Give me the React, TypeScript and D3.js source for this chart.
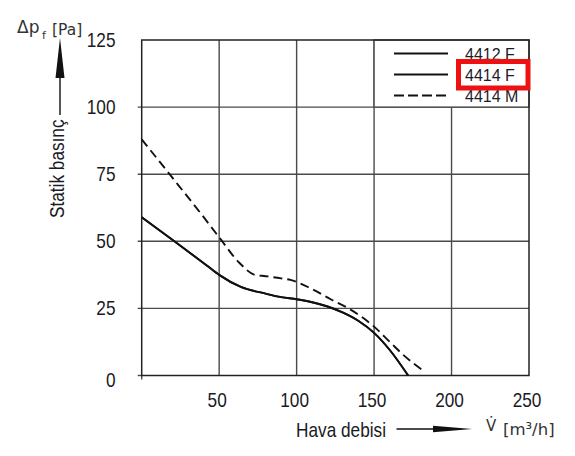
import * as d3 from "d3";

// fan curves (flow in m³/h, static pressure in Pa)
// 4412 F and 4414 F share the same solid curve
const flowF = [0, 20, 42, 50, 64, 80, 90, 100, 110, 120, 130, 140, 150, 160, 172];
const pressureF = [59, 50.5, 41, 37.5, 33, 30.5, 29.2, 28.4, 27.3, 25.7, 23.4, 20.3, 15.9, 9.6, 0];
const flowM = [0, 18, 40, 50, 63, 73, 80, 90, 96, 109, 122, 133.5, 150, 160, 169, 182.5];
const pressureM = [88, 75, 59, 51.5, 42, 37.5, 37, 36.2, 35.6, 32.5, 28.4, 25, 18.2, 12.6, 7.6, 1.5];

const series = [
  { name: "4412 F", flow: flowF, pressure: pressureF, dash: "" },
  { name: "4414 F", flow: flowF, pressure: pressureF, dash: "" },
  { name: "4414 M", flow: flowM, pressure: pressureM, dash: "9,5" },
];

const xTicks = [50, 100, 150, 200, 250];
const yTicks = [0, 25, 50, 75, 100, 125];
const xGrid = [50, 100, 150, 200];
const yGrid = [25, 50, 75, 100];

const sans = "'Liberation Sans',Arial,sans-serif";
const light = "'DejaVu Sans',sans-serif";

// no narrow font installed, so squeeze Liberation Sans
const Narrow = ({ x, y, anchor = "start", rotate = 0, children }) => (
  <g transform={`translate(${x},${y}) rotate(${rotate}) scale(0.82,1)`}>
    <text textAnchor={anchor} fontFamily={sans} fontSize={21} fill="#1a1a24">
      {children}
    </text>
  </g>
);

export default function App() {
  const width = 575,
    height = 456;

  const x = d3.scaleLinear().domain([0, 250]).range([141.7, 529]);
  const y = d3.scaleLinear().domain([0, 125]).range([375.5, 40]);

  const line = (s) =>
    d3
      .line<number>()
      .x((d) => x(d))
      .y((_, i) => y(s.pressure[i]))
      .curve(d3.curveMonotoneX)(s.flow);

  const gridColor = "#4a4a4a";

  return (
    <svg
      width={width}
      height={height}
      style={{ position: "absolute", left: 0, top: 0, background: "#fff" }}
    >
      {/* grid */}
      <g stroke={gridColor} strokeWidth={1.4}>
        {xGrid.map((v) => (
          <line key={"gx" + v} x1={x(v)} x2={x(v)} y1={y(0)} y2={y(125)} />
        ))}
        {yGrid.map((v) => (
          <line key={"gy" + v} x1={x(0) - 4} x2={x(250)} y1={y(v)} y2={y(v)} />
        ))}
        <line x1={x(0) - 4} x2={x(0)} y1={y(0)} y2={y(0)} />
        <line x1={x(0)} x2={x(0)} y1={y(0)} y2={y(0) + 4} />
      </g>

      {/* legend box covers the top-right cell */}
      <rect
        x={x(150)}
        y={y(125)}
        width={x(250) - x(150)}
        height={y(100) - y(125)}
        fill="#fff"
        stroke={gridColor}
        strokeWidth={1.4}
      />

      {/* frame */}
      <rect
        x={x(0)}
        y={y(125)}
        width={x(250) - x(0)}
        height={y(0) - y(125)}
        fill="none"
        stroke="#222"
        strokeWidth={1.5}
      />

      {/* curves */}
      {series.map((s) => (
        <path
          key={s.name}
          d={line(s)}
          fill="none"
          stroke="#111"
          strokeWidth={1.9}
          strokeDasharray={s.dash}
        />
      ))}

      {/* legend */}
      {series.map((s, i) => (
        <g key={"lg" + s.name} transform={`translate(0, ${53.5 + i * 21})`}>
          <line
            x1={394}
            x2={448}
            y1={0}
            y2={0}
            stroke="#111"
            strokeWidth={2.2}
            strokeDasharray={s.dash ? "10,4" : ""}
          />
          <text x={465} y={6} fontFamily={sans} fontSize={16} fill="#1c1c2a">
            {s.name}
          </text>
        </g>
      ))}
      <rect
        x={458.5}
        y={61.5}
        width={69.5}
        height={26.5}
        fill="none"
        stroke="#ee1111"
        strokeWidth={5}
      />

      {/* y tick labels */}
      {yTicks.map((v) => (
        <Narrow key={"ty" + v} x={115.5} y={y(v) + (v === 0 ? 11 : 6.5)} anchor="end">
          {v}
        </Narrow>
      ))}

      {/* x tick labels */}
      {xTicks.map((v) => (
        <Narrow key={"tx" + v} x={x(v) - 2} y={407} anchor="middle">
          {v}
        </Narrow>
      ))}

      {/* y axis title and arrow */}
      <Narrow x={64} y={218} rotate={-90}>
        Statik basınç
      </Narrow>
      <line x1={60} x2={60} y1={115} y2={76} stroke="#111" strokeWidth={1.4} />
      <path d="M60,38 L64.5,78 L55.5,78 Z" fill="#111" />
      <text x={17} y={33} fontFamily={light} fontSize={17} fill="#333">
        Δp
      </text>
      <text x={42} y={38.5} fontFamily={light} fontSize={11} fill="#333">
        f
      </text>
      <text x={52} y={35} fontFamily={light} fontSize={15.5} fill="#333">
        [Pa]
      </text>

      {/* x axis title and arrow */}
      <Narrow x={386} y={436.5} anchor="end">
        Hava debisi
      </Narrow>
      <line x1={396.5} x2={436} y1={429} y2={429} stroke="#111" strokeWidth={1.4} />
      <path d="M472,429 L433,425.8 L433,432.2 Z" fill="#111" />
      <text x={486} y={431} fontFamily={light} fontSize={15} fill="#333">
        V̇
      </text>
      <text x={503} y={435} fontFamily={light} fontSize={16.5} fill="#333">
        [m³/h]
      </text>
    </svg>
  );
}
